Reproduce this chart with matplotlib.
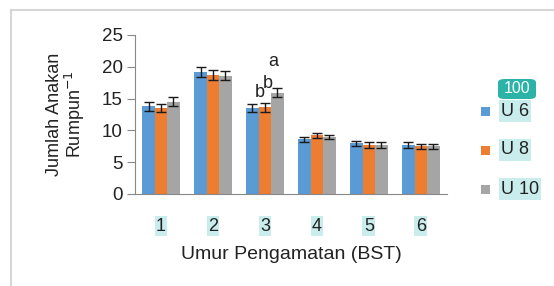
import numpy as np
import matplotlib.pyplot as plt
from matplotlib.patches import Rectangle, FancyBboxPatch

plt.rcParams['font.family'] = ['Liberation Sans', 'DejaVu Sans']

# Data
weeks = ["1", "2", "3", "4", "5", "6"]
series = ["U 6", "U 8", "U 10"]
u6 = [13.8, 19.2, 13.5, 8.6, 8.0, 7.7]
u8 = [13.5, 18.7, 13.6, 9.2, 7.7, 7.5]
u10 = [14.5, 18.6, 15.9, 9.0, 7.7, 7.5]
u6_err = [0.7, 0.8, 0.6, 0.4, 0.4, 0.4]
u8_err = [0.6, 0.8, 0.7, 0.4, 0.4, 0.4]
u10_err = [0.7, 0.7, 0.7, 0.3, 0.4, 0.4]
notes = [("a", 20.8), ("b", 17.4), ("b", 16.0)]

colors = ["#5b9bd5", "#ed7d31", "#a5a5a5"]
hl = "#c9ecec"

fig = plt.figure(figsize=(5.54, 2.86), dpi=100)
ax = fig.add_axes([0.2437, 0.3217, 0.563, 0.556])

x = np.arange(len(weeks))
w = 0.24
vals = [u6, u8, u10]
errs = [u6_err, u8_err, u10_err]
for i in range(3):
    ax.bar(x + (i - 1) * w, vals[i], w, color=colors[i], label=series[i],
           yerr=errs[i], capsize=3.5, error_kw=dict(ecolor="#1a1a1a", elinewidth=1.0, capthick=1.0))

# letters over week 3
ax.text(x[2] + 0.15, notes[0][1], notes[0][0], fontsize=13, ha="center", va="center", color="#222222")
ax.text(x[2] + 0.05, notes[1][1], notes[1][0], fontsize=13, ha="center", va="center", color="#222222")
ax.text(x[2] - 0.09, notes[2][1], notes[2][0], fontsize=13, ha="center", va="center", color="#222222")

ax.set_xlim(-0.5, len(weeks) - 0.5)
ax.set_ylim(0, 25)
ax.set_yticks([0, 5, 10, 15, 20, 25])
ax.set_xticks(x)
ax.set_xticklabels(weeks)
ax.tick_params(axis="y", labelsize=13.5, colors="#222222", length=6, color="#888888", pad=3)
ax.tick_params(axis="x", labelsize=13, colors="#222222", length=0, pad=17)
for t in ax.get_xticklabels():
    t.set_bbox(dict(facecolor=hl, edgecolor="none", pad=1))
for s in ["top", "right"]:
    ax.spines[s].set_visible(False)
ax.spines["left"].set_color("#888888")
ax.spines["bottom"].set_color("#888888")

ax.set_xlabel("Umur Pengamatan (BST)", fontsize=14, color="#222222", labelpad=8)
fig.text(0.098, 0.6, "Jumlah Anakan", rotation=90, fontsize=13, ha="center", va="center", color="#222222")
fig.text(0.136, 0.6, "Rumpun$^{-1}$", rotation=90, fontsize=13, ha="center", va="center", color="#222222")

# legend drawn manually
leg_y = [111, 150, 189]
for i in range(3):
    yy = 1 - leg_y[i] / 286
    fig.patches.append(Rectangle((481 / 554, yy - 4.5 / 286), 9 / 554, 9 / 286,
                                 transform=fig.transFigure, facecolor=colors[i], edgecolor="none"))
    fig.text(501 / 554, yy, series[i], fontsize=13, ha="left", va="center", color="#222222",
             bbox=dict(facecolor=hl, edgecolor="none", pad=1.5))

# badge
fig.patches.append(FancyBboxPatch((498 / 554, 1 - 99 / 286), 38 / 554, 20 / 286,
                                  boxstyle="round,pad=0,rounding_size=0.012",
                                  transform=fig.transFigure, facecolor="#2ab3a6", edgecolor="none"))
fig.text(517 / 554, 1 - 88.5 / 286, "100", fontsize=11.5, ha="center", va="center", color="white")

# outer frame lines
fig.add_artist(plt.Line2D([11 / 554, 11 / 554], [0, 1 - 10 / 286], color="#d6d6d6", lw=1.5))
fig.add_artist(plt.Line2D([11 / 554, 1], [1 - 10 / 286, 1 - 10 / 286], color="#d6d6d6", lw=1.5))

fig.savefig("out.png", dpi=100)
